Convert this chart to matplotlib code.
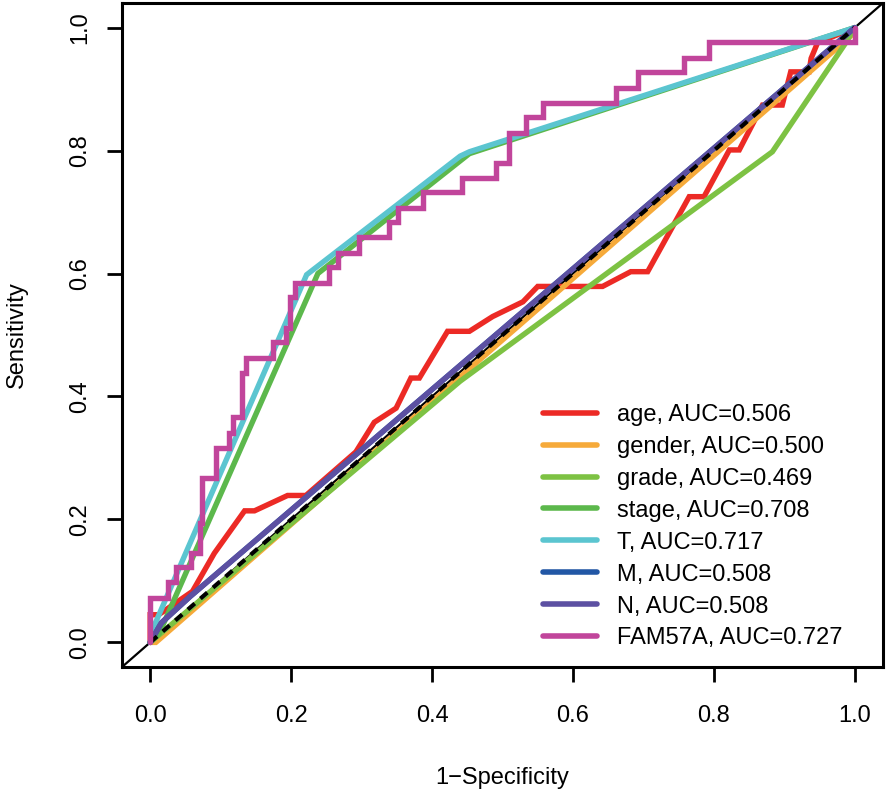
import numpy as np
import matplotlib
matplotlib.use("Agg")
import matplotlib.pyplot as plt

plt.rcParams['font.family'] = ['Liberation Sans', 'DejaVu Sans']

# ROC curves (x = 1-specificity, y = sensitivity)
age_x = [0, 0, 0.012, 0.06, 0.091, 0.134, 0.148, 0.195, 0.221, 0.292, 0.318, 0.349, 0.370, 0.382,
         0.422, 0.453, 0.486, 0.529, 0.55, 0.642, 0.682, 0.706, 0.765, 0.786, 0.822, 0.836, 0.869,
         0.897, 0.909, 0.935, 0.938, 0.947, 1.0]
age_y = [0, 0.045, 0.045, 0.083, 0.145, 0.214, 0.214, 0.239, 0.239, 0.31, 0.358, 0.381, 0.430, 0.430,
         0.506, 0.506, 0.530, 0.554, 0.579, 0.579, 0.603, 0.603, 0.725, 0.725, 0.801, 0.801, 0.874,
         0.874, 0.928, 0.928, 0.950, 0.975, 1.0]

gender_x = [0, 0.008, 1, 1]
gender_y = [0, 0, 0.992, 1]

grade_x = [0, 0.44, 0.883, 0.987, 1]
grade_y = [0, 0.425, 0.798, 0.975, 1]

stage_x = [0, 0.013, 0.238, 0.453, 1]
stage_y = [0, 0.015, 0.600, 0.795, 1]

t_x = [0, 0.003, 0.222, 0.44, 0.453, 1]
t_y = [0, 0.02, 0.598, 0.791, 0.798, 1]

m_x = [0, 0.016, 0.057, 1]
m_y = [0, 0.032, 0.075, 1]

n_x = [0, 0.016, 0.057, 1]
n_y = [0, 0.032, 0.075, 1]

fam_x = [0, 0, 0.025, 0.025, 0.037, 0.037, 0.058, 0.058, 0.07, 0.07, 0.074, 0.074, 0.094, 0.094,
         0.1125, 0.1125, 0.118, 0.118, 0.131, 0.131, 0.136, 0.136, 0.174, 0.174, 0.193, 0.193,
         0.198, 0.198, 0.205, 0.205, 0.254, 0.254, 0.266, 0.266, 0.296, 0.296, 0.339, 0.339,
         0.351, 0.351, 0.387, 0.387, 0.443, 0.443, 0.491, 0.491, 0.509, 0.509, 0.533, 0.533,
         0.557, 0.557, 0.661, 0.661, 0.692, 0.692, 0.758, 0.758, 0.793, 0.793, 1, 1]
fam_y = [0, 0.073, 0.073, 0.098, 0.098, 0.122, 0.122, 0.146, 0.146, 0.195, 0.195, 0.268, 0.268, 0.317,
         0.317, 0.341, 0.341, 0.366, 0.366, 0.439, 0.439, 0.463, 0.463, 0.488, 0.488, 0.512,
         0.512, 0.561, 0.561, 0.585, 0.585, 0.610, 0.610, 0.634, 0.634, 0.659, 0.659, 0.683,
         0.683, 0.707, 0.707, 0.732, 0.732, 0.756, 0.756, 0.780, 0.780, 0.829, 0.829, 0.854,
         0.854, 0.878, 0.878, 0.902, 0.902, 0.927, 0.927, 0.951, 0.951, 0.976, 0.976, 1]

labels = ["age, AUC=0.506", "gender, AUC=0.500", "grade, AUC=0.469", "stage, AUC=0.708",
          "T, AUC=0.717", "M, AUC=0.508", "N, AUC=0.508", "FAM57A, AUC=0.727"]
colors = ["#EC2A25", "#F6AA3A", "#7DC243", "#5CB84C", "#5BC5D0", "#2257A5", "#5C50A2", "#C1459B"]

curves = [(age_x, age_y), (gender_x, gender_y), (grade_x, grade_y), (stage_x, stage_y),
          (t_x, t_y), (m_x, m_y), (n_x, n_y), (fam_x, fam_y)]

my_dpi = 100
fig = plt.figure(figsize=(886 / my_dpi, 795 / my_dpi), dpi=my_dpi)
ax = fig.add_axes([122 / 886, 128 / 795, 761 / 886, 664 / 795])

ax.plot([-0.04, 1.04], [-0.04, 1.04], color="black", lw=1.6, zorder=1)

handles = []
for i, ((x, y), c, lab) in enumerate(zip(curves, colors, labels)):
    z = 10 if lab.startswith("FAM57A") else 2 + i * 0.1
    h, = ax.plot(x, y, color=c, lw=3.9, solid_capstyle="round", solid_joinstyle="miter",
                 label=lab, zorder=z)
    handles.append(h)

ax.plot([0, 1], [0, 1], color="black", lw=3, dashes=(2.2, 1.8), zorder=5)

ax.set_xlim(-0.04, 1.04)
ax.set_ylim(-0.04, 1.04)
ticks = np.arange(0, 1.01, 0.2)
ax.set_xticks(ticks)
ax.set_yticks(ticks)
ax.set_xticklabels(["%.1f" % t for t in ticks], fontsize=17)
ax.set_yticklabels(["%.1f" % t for t in ticks], fontsize=17, rotation=90, va="center")
ax.tick_params(axis="both", length=11, width=2, color="black")
ax.tick_params(axis="x", pad=16)
ax.tick_params(axis="y", pad=11)
for s in ax.spines.values():
    s.set_linewidth(2.2)

ax.set_xlabel("1\u2212Specificity", fontsize=17, labelpad=29)
ax.set_ylabel("Sensitivity", fontsize=17, labelpad=30)

leg = ax.legend(handles=handles, loc="upper left", bbox_to_anchor=(543 / 886, 1 - 404 / 795),
                bbox_transform=fig.transFigure, frameon=False, fontsize=17, borderpad=0,
                borderaxespad=0, handlelength=2.3, handletextpad=0.85, labelspacing=0.42)
for line in leg.get_lines():
    line.set_linewidth(4)
    line.set_solid_capstyle("round")

fig.savefig("out.png", dpi=my_dpi)
